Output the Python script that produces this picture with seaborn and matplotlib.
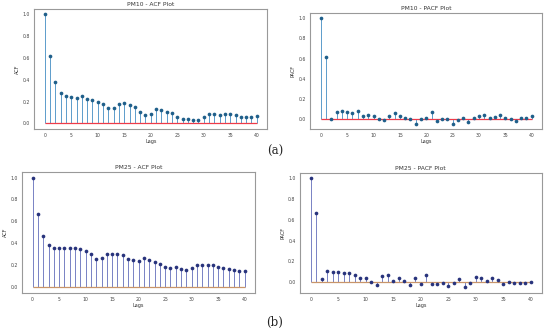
import numpy as np
import pandas as pd
import seaborn as sns
import matplotlib
matplotlib.use("Agg")
import matplotlib.pyplot as plt

lags = np.arange(41)

pm10_acf = [1.0, 0.615, 0.376, 0.275, 0.248, 0.242, 0.235, 0.248, 0.226, 0.211,
            0.199, 0.174, 0.141, 0.141, 0.174, 0.183, 0.171, 0.150, 0.101, 0.080,
            0.083, 0.135, 0.125, 0.107, 0.095, 0.055, 0.040, 0.040, 0.028, 0.034,
            0.058, 0.089, 0.089, 0.076, 0.089, 0.089, 0.076, 0.055, 0.055, 0.055,
            0.070]
pm10_pacf = [1.0, 0.617, 0.002, 0.070, 0.083, 0.070, 0.060, 0.080, 0.027, 0.037,
             0.033, -0.003, -0.013, 0.033, 0.060, 0.027, 0.010, 0.003, -0.047, 0.0,
             0.007, 0.070, -0.023, 0.0, -0.003, -0.047, -0.010, 0.007, -0.033, 0.010,
             0.027, 0.037, 0.007, 0.020, 0.040, 0.010, -0.003, -0.023, 0.007, 0.007,
             0.033]
pm25_acf = [1.0, 0.672, 0.471, 0.389, 0.362, 0.359, 0.359, 0.359, 0.359, 0.347,
            0.331, 0.304, 0.261, 0.271, 0.304, 0.304, 0.304, 0.292, 0.255, 0.252,
            0.240, 0.264, 0.252, 0.228, 0.216, 0.188, 0.173, 0.185, 0.167, 0.155,
            0.179, 0.207, 0.204, 0.207, 0.204, 0.188, 0.176, 0.167, 0.161, 0.149,
            0.152]
pm25_pacf = [1.0, 0.671, 0.035, 0.111, 0.098, 0.098, 0.085, 0.085, 0.070, 0.044,
             0.038, 0.0, -0.028, 0.063, 0.073, 0.016, 0.038, 0.013, -0.028, 0.038,
             -0.013, 0.070, -0.019, -0.019, -0.006, -0.041, -0.006, 0.035, -0.051, -0.006,
             0.047, 0.044, 0.013, 0.041, 0.022, -0.013, 0.006, -0.009, -0.009, -0.009,
             0.003]

sns.set_style("white")
plt.rcParams['font.family'] = ['DejaVu Sans']

fig = plt.figure(figsize=(5.5, 3.34), dpi=100)

# [left, bottom, width, height], title, ylabel, values, stem colour, marker colour, base colour
panels = [
    ([0.062, 0.614, 0.424, 0.360], "PM10 - ACF Plot", "ACF", pm10_acf, "#5c9ccb", "#1f5f8a", "#ee3b4a"),
    ([0.564, 0.614, 0.422, 0.347], "PM10 - PACF Plot", "PACF", pm10_pacf, "#5c9ccb", "#1f5f8a", "#ee3b4a"),
    ([0.040, 0.123, 0.424, 0.362], "PM25 - ACF Plot", "ACF", pm25_acf, "#7882c4", "#28337c", "#c8956a"),
    ([0.545, 0.123, 0.440, 0.359], "PM25 - PACF Plot", "PACF", pm25_pacf, "#7882c4", "#28337c", "#c8956a"),
]

for pos, title, ylab, vals, c_stem, c_mark, c_base in panels:
    ax = fig.add_axes(pos)
    df = pd.DataFrame({"Lags": lags, "value": vals})
    ax.vlines(df.Lags, 0, df.value, color=c_stem, linewidth=0.7, zorder=2)
    ax.hlines(0, 0, 40, color=c_base, linewidth=0.9, zorder=2.5)
    sns.scatterplot(data=df, x="Lags", y="value", ax=ax, color=c_mark, s=7,
                    edgecolor=c_mark, linewidth=0, zorder=3)
    ax.set_xlim(-2, 42)
    ax.margins(y=0.05)
    ax.set_xticks(range(0, 41, 5))
    ax.set_yticks([0.0, 0.2, 0.4, 0.6, 0.8, 1.0])
    ax.tick_params(labelsize=3.3, length=1.5, width=0.4, pad=1.5, colors="#444444")
    ax.set_title(title, fontsize=4.3, pad=2, color="#333333")
    ax.set_xlabel("Lags", fontsize=3.6, labelpad=1, color="#333333")
    ax.set_ylabel(ylab, fontsize=3.6, labelpad=2, color="#333333")
    for s in ax.spines.values():
        s.set_color("#999999")
        s.set_linewidth(0.8)

fig.text(0.5, 0.548, "(a)", ha="center", va="center", fontsize=8.5, family="serif")
fig.text(0.5, 0.035, "(b)", ha="center", va="center", fontsize=8.5, family="serif")

fig.savefig("out.png", dpi=100)
